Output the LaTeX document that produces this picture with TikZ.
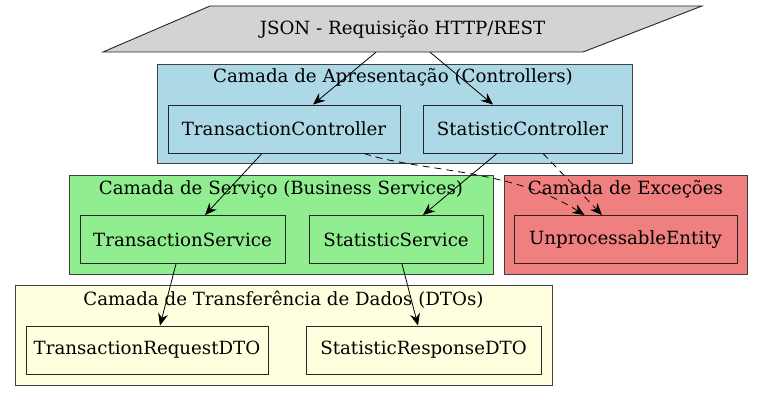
\documentclass[tikz,border=0pt]{standalone}
\usepackage{fontspec}
\setmainfont{DejaVu Serif}
\usetikzlibrary{arrows.meta}
\definecolor{lblue}{RGB}{173,216,230}
\definecolor{lgreen}{RGB}{144,238,144}
\definecolor{lcoral}{RGB}{240,128,128}
\definecolor{lyellow}{RGB}{255,255,224}
\definecolor{lgray}{RGB}{211,211,211}
\newcommand{\dfs}{\fontsize{18.2}{22}\selectfont}
\tikzset{
  cluster/.style={draw=black!75, line width=0.9pt, rectangle, inner sep=0pt},
  clabel/.style={font=\dfs, inner sep=0pt, anchor=base},
  box/.style={draw=black!85, line width=0.9pt, rectangle, inner sep=0pt, font=\dfs, minimum height=48pt},
  edge/.style={-{Stealth[length=12pt,width=10pt,inset=4pt]}, line width=0.8pt},
  dedge/.style={edge, dash pattern=on 7pt off 5pt},
}
\begin{document}
\begin{tikzpicture}[x=1pt,y=-1pt]
\useasboundingbox (0,0) rectangle (763,401);
\fill[white] (0,0) rectangle (763,401);
% clusters
\node[cluster, fill=lblue, minimum width=475pt, minimum height=99pt] (cpres) at (394.5,113.5) {};
\node[clabel] (lpres) at (393,83) {Camada de Apresentação (Controllers)};
\node[cluster, fill=lgreen, minimum width=424pt, minimum height=99pt] (cserv) at (281,224.5) {};
\node[clabel] (lserv) at (281,194) {Camada de Serviço (Business Services)};
\node[cluster, fill=lcoral, minimum width=243pt, minimum height=99pt] (cexc) at (625.5,224.5) {};
\node[clabel] (lexc) at (625.5,194) {Camada de Exceções};
\node[cluster, fill=lyellow, minimum width=537pt, minimum height=100pt] (cdto) at (283.5,335) {};
\node[clabel] (ldto) at (283.5,305) {Camada de Transferência de Dados (DTOs)};
% top parallelogram
\draw[black!85, line width=0.9pt, fill=lgray] (210,6) -- (702,6) -- (583,52) -- (103,52) -- cycle;
\node[font=\dfs, inner sep=0pt, minimum width=480pt, minimum height=46pt] (json) at (402.5,29) {JSON - Requisição HTTP/REST};
% nodes
\node[box, fill=lblue, minimum width=232pt] (tc) at (284,129) {TransactionController};
\node[box, fill=lblue, minimum width=199pt] (sc) at (522.5,129) {StatisticController};
\node[box, fill=lgreen, minimum width=205pt] (ts) at (182.5,239.5) {TransactionService};
\node[box, fill=lgreen, minimum width=174pt] (ss) at (396,239.5) {StatisticService};
\node[box, fill=lcoral, minimum width=223pt] (ue) at (625.5,239.5) {UnprocessableEntity};
\node[box, fill=lyellow, minimum width=242pt] (trd) at (147,350) {TransactionRequestDTO};
\node[box, fill=lyellow, minimum width=235pt] (srd) at (423.5,350) {StatisticResponseDTO};
% edges
\draw[edge] ([xshift=-26.5pt]json.south) -- ([xshift=29pt]tc.north);
\draw[edge] ([xshift=27.5pt]json.south) -- ([xshift=-29.5pt]sc.north);
\draw[edge] ([xshift=-22pt]tc.south) -- ([xshift=22.5pt]ts.north);
\draw[edge] ([xshift=-25.5pt]sc.south) -- ([xshift=27pt]ss.north);
\draw[dedge] ([xshift=80pt]tc.south) .. controls (420,172) and (510,168) .. ([xshift=-41pt]ue.north);
\draw[dedge] ([xshift=20.5pt]sc.south) -- ([xshift=-23.5pt]ue.north);
\draw[edge] ([xshift=-6.5pt]ts.south) -- ([xshift=13pt]trd.north);
\draw[edge] ([xshift=6pt]ss.south) -- ([xshift=-5.5pt]srd.north);
\end{tikzpicture}
\end{document}
